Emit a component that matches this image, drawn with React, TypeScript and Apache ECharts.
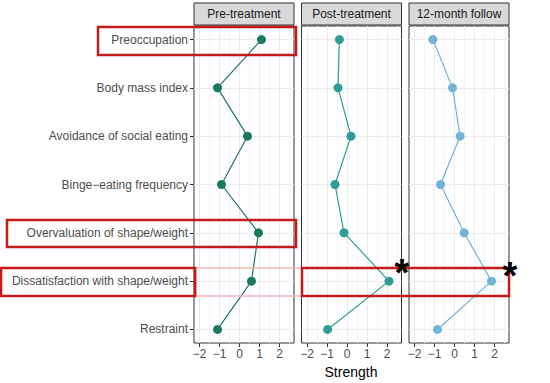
import React, { useEffect, useRef } from "react";
import * as echarts from "echarts";

const categories = [
  "Preoccupation",
  "Body mass index",
  "Avoidance of social eating",
  "Binge\u2212eating frequency",
  "Overvaluation of shape/weight",
  "Dissatisfaction with shape/weight",
  "Restraint",
];
const panels = ["Pre-treatment", "Post-treatment", "12-month follow"];
const preTreatment = [1.1, -1.1, 0.4, -0.9, 0.95, 0.6, -1.1];
const postTreatment = [-0.38, -0.45, 0.2, -0.6, -0.15, 2.1, -0.97];
const followUp = [-1.08, -0.1, 0.28, -0.7, 0.48, 1.85, -0.85];
const xTicks = [-2, -1, 0, 1, 2];
const xMinor = [-1.5, -0.5, 0.5, 1.5, 2.5];
const seriesValues = [preTreatment, postTreatment, followUp];
const colors = ["#1b7a5e", "#2e9d98", "#72b4d8"];

const PANEL_LEFT = [194, 301.5, 409];
const PANEL_W = 100;
const PANEL_TOP = 26;
const PANEL_H = 317;
const RED = "#c41a1a";

export default function App() {
  const ref = useRef<HTMLDivElement>(null);
  useEffect(() => {
    if (!ref.current) return;
    const chart = echarts.init(ref.current, undefined, { renderer: "svg" });
    const font = "'Liberation Sans', Arial, Helvetica, sans-serif";
    const grids: any[] = [];
    const xAxes: any[] = [];
    const yAxes: any[] = [];
    const series: any[] = [];
    const graphics: any[] = [];
    const catIdx = categories.map((_, i) => i);

    panels.forEach((p, i) => {
      grids.push({
        left: PANEL_LEFT[i],
        top: PANEL_TOP,
        width: PANEL_W,
        height: PANEL_H,
        show: true,
        backgroundColor: "#ffffff",
        borderColor: "#333333",
        borderWidth: 1,
        containLabel: false,
      });
      xAxes.push({
        type: "value",
        gridIndex: i,
        min: -2.275,
        max: 2.725,
        position: "bottom",
        axisLine: { show: false, onZero: false },
        axisTick: { show: true, customValues: xTicks, length: 4, lineStyle: { color: "#333333" } },
        axisLabel: {
          customValues: xTicks,
          formatter: (v: number) => String(v).replace("-", "\u2212"),
          color: "#4d4d4d",
          fontSize: 12,
          fontFamily: font,
          margin: 5,
        },
        splitLine: { show: true, lineStyle: { color: "#ebebeb", width: 1 } },
      });
      xAxes.push({
        type: "value",
        gridIndex: i,
        min: -2.275,
        max: 2.725,
        position: "top",
        axisLine: { show: false, onZero: false },
        axisTick: { show: false, customValues: xMinor },
        axisLabel: { show: false, customValues: xMinor },
        splitLine: { show: true, lineStyle: { color: "#f4f4f4", width: 1 } },
      });
      yAxes.push({
        type: "value",
        gridIndex: i,
        min: -0.28,
        max: 6.28,
        inverse: true,
        position: "left",
        axisLine: { show: false, onZero: false },
        axisTick: { show: i === 0, customValues: catIdx, length: 4, lineStyle: { color: "#333333" } },
        axisLabel: {
          show: i === 0,
          customValues: catIdx,
          formatter: (v: number) => categories[Math.round(v)] ?? "",
          color: "#4d4d4d",
          fontSize: 12,
          fontFamily: font,
          margin: 6,
        },
        splitLine: { show: true, lineStyle: { color: "#ebebeb", width: 1 } },
      });
      series.push({
        type: "line",
        name: p,
        xAxisIndex: i * 2,
        yAxisIndex: i,
        data: seriesValues[i].map((v, k) => [v, k]),
        symbol: "circle",
        symbolSize: 9,
        showSymbol: true,
        color: colors[i],
        lineStyle: { color: colors[i], width: 1.2 },
        itemStyle: { color: colors[i] },
        z: 3,
      });
      graphics.push({
        type: "rect",
        shape: { x: PANEL_LEFT[i], y: 3, width: PANEL_W, height: 22 },
        style: { fill: "#d9d9d9", stroke: "#333333", lineWidth: 1 },
      });
      graphics.push({
        type: "text",
        x: PANEL_LEFT[i] + PANEL_W / 2,
        y: 14,
        style: {
          text: p,
          fill: "#1a1a1a",
          fontSize: 12,
          fontFamily: font,
          textAlign: "center",
          textVerticalAlign: "middle",
        },
      });
    });

    // axis title
    graphics.push({
      type: "text",
      x: 351,
      y: 372,
      style: {
        text: "Strength",
        fill: "#000000",
        fontSize: 14,
        fontFamily: font,
        textAlign: "center",
        textVerticalAlign: "middle",
      },
    });

    // annotations
    const box = (x: number, y: number, w: number, h: number, stroke = RED, lw = 2.5) => ({
      type: "rect",
      z: 100,
      shape: { x, y, width: w, height: h },
      style: { fill: "none", stroke, lineWidth: lw },
    });
    graphics.push(box(98, 27, 198, 28));
    graphics.push(box(7, 220, 289, 27));
    graphics.push(box(196, 268, 106, 28, "#f3b9b9", 1.5));
    graphics.push(box(1, 268, 194, 28));
    graphics.push(box(302, 268, 207, 28));
    const star = (x: number, y: number) => ({
      type: "text",
      z: 101,
      x,
      y,
      style: {
        text: "*",
        fill: "#000000",
        fontSize: 38,
        fontWeight: "bold",
        fontFamily: font,
        textAlign: "center",
        textVerticalAlign: "top",
      },
    });
    graphics.push(star(402, 254));
    graphics.push(star(510, 257));

    chart.setOption({
      animation: false,
      grid: grids,
      xAxis: xAxes,
      yAxis: yAxes,
      series,
      graphic: graphics,
    });
    return () => chart.dispose();
  }, []);
  return (
    <div
      ref={ref}
      style={{ position: "fixed", left: 0, top: 0, width: 550, height: 383, background: "#ffffff" }}
    />
  );
}
